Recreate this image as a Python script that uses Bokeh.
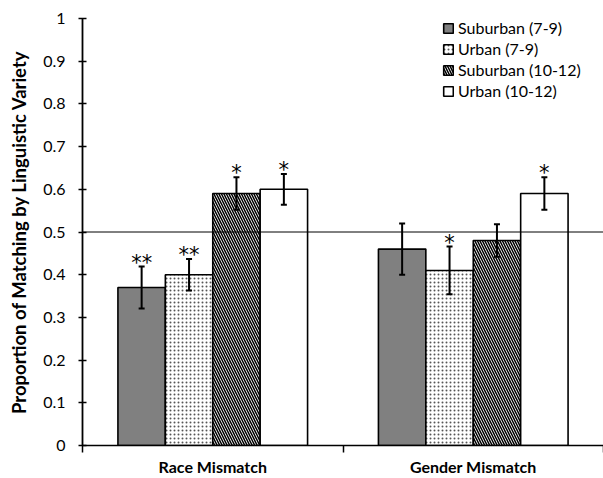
from bokeh.plotting import figure
from bokeh.models import (Range1d, FixedTicker, Whisker, TeeHead, Span, Legend,
                          LegendItem, ColumnDataSource)
from bokeh.core.properties import value
from bokeh.embed import file_html
from bokeh.resources import INLINE

# ---- data ----
categories = ["Race Mismatch", "Gender Mismatch"]
series = ["Suburban (7-9)", "Urban (7-9)", "Suburban (10-12)", "Urban (10-12)"]
suburban_7_9 = [0.37, 0.46]
urban_7_9 = [0.40, 0.41]
suburban_10_12 = [0.59, 0.48]
urban_10_12 = [0.60, 0.59]
err_suburban_7_9 = [0.049, 0.060]
err_urban_7_9 = [0.037, 0.056]
err_suburban_10_12 = [0.038, 0.038]
err_urban_10_12 = [0.036, 0.038]
sig_suburban_7_9 = ["**", ""]
sig_urban_7_9 = ["**", "*"]
sig_suburban_10_12 = ["*", ""]
sig_urban_10_12 = ["*", "*"]
chance_level = 0.5
y_ticks = [0, 0.1, 0.2, 0.3, 0.4, 0.5, 0.6, 0.7, 0.8, 0.9, 1]
y_tick_labels = ["0", "0.1", "0.2", "0.3", "0.4", "0.5", "0.6", "0.7", "0.8", "0.9", "1"]

values = [suburban_7_9, urban_7_9, suburban_10_12, urban_10_12]
errors = [err_suburban_7_9, err_urban_7_9, err_suburban_10_12, err_urban_10_12]
sigs = [sig_suburban_7_9, sig_urban_7_9, sig_suburban_10_12, sig_urban_10_12]

styles = [
    dict(fill_color="#808080"),
    dict(fill_color="white", hatch_pattern="dot", hatch_color="#555555", hatch_scale=4, hatch_weight=1),
    dict(fill_color="white", hatch_pattern="left_diagonal_line", hatch_color="black", hatch_scale=5, hatch_weight=1.5),
    dict(fill_color="white"),
]

FONT = "Lato"
bar_w = 0.182

p = figure(width=603, height=478, output_backend="svg", toolbar_location=None,
           x_range=Range1d(0, 2), y_range=Range1d(0, 1),
           min_border_left=82, min_border_right=0, min_border_top=18, min_border_bottom=33)
p.outline_line_color = None
p.grid.visible = False
p.background_fill_color = "white"
p.border_fill_color = "white"

items = []
for k in range(4):
    xs = [i + 0.5 + (k - 1.5) * bar_w for i in range(len(categories))]
    src = ColumnDataSource(dict(
        x=xs, top=values[k],
        upper=[v + e for v, e in zip(values[k], errors[k])],
        lower=[v - e for v, e in zip(values[k], errors[k])],
        sig=sigs[k]))
    r = p.vbar(x="x", top="top", width=bar_w, bottom=0, source=src,
               line_color="black", line_width=1.6, **styles[k])
    items.append(LegendItem(label=series[k], renderers=[r]))
    w = Whisker(base="x", upper="upper", lower="lower", source=src, level="overlay",
                line_color="black", line_width=2,
                upper_head=TeeHead(size=6, line_width=2, line_color="black"),
                lower_head=TeeHead(size=6, line_width=2, line_color="black"))
    p.add_layout(w)
    p.text(x="x", y="upper", text="sig", source=src, text_align="center",
           text_baseline="middle", y_offset=-4, text_font=value("DejaVu Sans"),
           text_font_size="21px", text_color="black")

p.add_layout(Span(location=chance_level, dimension="width", line_color="black", line_width=1))

# y axis
p.yaxis.ticker = FixedTicker(ticks=y_ticks)
p.yaxis.major_label_overrides = {t: l for t, l in zip(y_ticks, y_tick_labels)}
p.yaxis.minor_tick_line_color = None
p.yaxis.major_tick_in = 4
p.yaxis.major_tick_out = 4
p.yaxis.major_tick_line_width = 1.5
p.yaxis.axis_line_width = 1.8
p.yaxis.major_label_text_font = FONT
p.yaxis.major_label_text_font_size = "16px"
p.yaxis.major_label_text_color = "black"
p.yaxis.major_label_standoff = 13
p.yaxis.axis_label = "Proportion of Matching by Linguistic Variety"
p.yaxis.axis_label_text_font = FONT
p.yaxis.axis_label_text_font_style = "bold"
p.yaxis.axis_label_text_font_size = "18.5px"
p.yaxis.axis_label_text_color = "black"
p.yaxis.axis_label_standoff = 10

# x axis
centers = [i + 0.5 for i in range(len(categories))]
bounds = [i for i in range(len(categories) + 1)]
p.xaxis.ticker = FixedTicker(ticks=centers, minor_ticks=bounds)
p.xaxis.major_label_overrides = {c: n for c, n in zip(centers, categories)}
p.xaxis.major_tick_in = 0
p.xaxis.major_tick_out = 0
p.xaxis.minor_tick_in = 0
p.xaxis.minor_tick_out = 7
p.xaxis.minor_tick_line_width = 1.5
p.xaxis.minor_tick_line_color = "black"
p.xaxis.axis_line_width = 1.5
p.xaxis.major_label_text_font = FONT
p.xaxis.major_label_text_font_style = "bold"
p.xaxis.major_label_text_font_size = "16px"
p.xaxis.major_label_text_color = "black"
p.xaxis.major_label_standoff = 4

legend = Legend(items=items, location=(360, 345), glyph_width=12, glyph_height=12,
                label_height=12, spacing=2, label_standoff=4, padding=0, margin=0,
                border_line_color=None, background_fill_alpha=0,
                label_text_font=FONT, label_text_font_size="16px", label_text_color="black")
p.add_layout(legend)

open("out.html", "w").write(file_html(p, INLINE))
